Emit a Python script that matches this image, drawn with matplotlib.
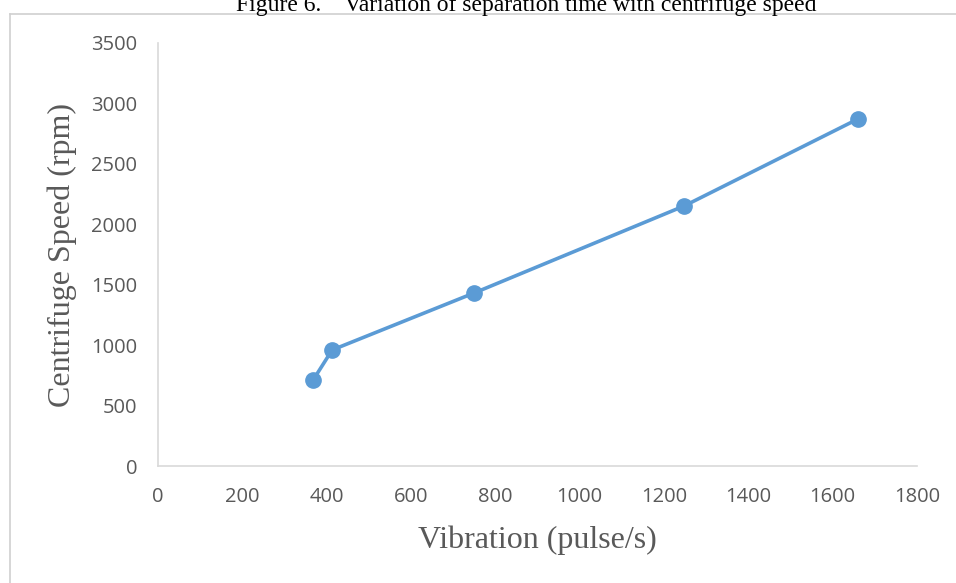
import matplotlib
matplotlib.use("Agg")
import matplotlib.pyplot as plt
from matplotlib.lines import Line2D

vibration = [368, 413, 750, 1248, 1661]
speed = [712, 960, 1432, 2152, 2873]
x_ticks = [0, 200, 400, 600, 800, 1000, 1200, 1400, 1600, 1800]
y_ticks = [0, 500, 1000, 1500, 2000, 2500, 3000, 3500]

W, H = 956, 583
fig = plt.figure(figsize=(W/100, H/100), dpi=100)
ax = fig.add_axes([158/W, 1-466/H, (917-158)/W, (466-43)/H])

ax.plot(vibration, speed, color="#5B9BD5", lw=2.6, marker="o", ms=11, zorder=3)
ax.set_xlim(0, 1800)
ax.set_ylim(0, 3500)
ax.set_xticks(x_ticks)
ax.set_yticks(y_ticks)
tick_font = dict(family="Open Sans", size=14.5, color="#595959")
ax.set_xticklabels([str(v) for v in x_ticks], **tick_font)
ax.set_yticklabels([str(v) for v in y_ticks], **tick_font)
ax.tick_params(length=0)
ax.tick_params(axis="y", pad=15)
ax.tick_params(axis="x", pad=15)
for s in ["top", "right"]:
    ax.spines[s].set_visible(False)
for s in ["left", "bottom"]:
    ax.spines[s].set_color("#d9d9d9")
    ax.spines[s].set_linewidth(1.2)

fig.text(537/W, 1-540/H, "Vibration (pulse/s)", family="Liberation Serif",
         size=23, color="#595959", ha="center", va="center")
fig.text(62/W, 1-255/H, "Centrifuge Speed (rpm)", family="Liberation Serif",
         size=23, color="#595959", ha="center", va="center", rotation=90)

fig.text(526/W, 1-11/H, "Figure 6.    Variation of separation time with centrifuge speed",
         family="Liberation Serif", size=17, color="black", ha="center", va="baseline")

fig.add_artist(Line2D([10/W, 10/W], [0, 1-14/H], color="#d0d0d0", lw=1.2, transform=fig.transFigure))
fig.add_artist(Line2D([10/W, 1], [1-14/H, 1-14/H], color="#d0d0d0", lw=1.2, transform=fig.transFigure))

fig.savefig("out.png", dpi=100)
